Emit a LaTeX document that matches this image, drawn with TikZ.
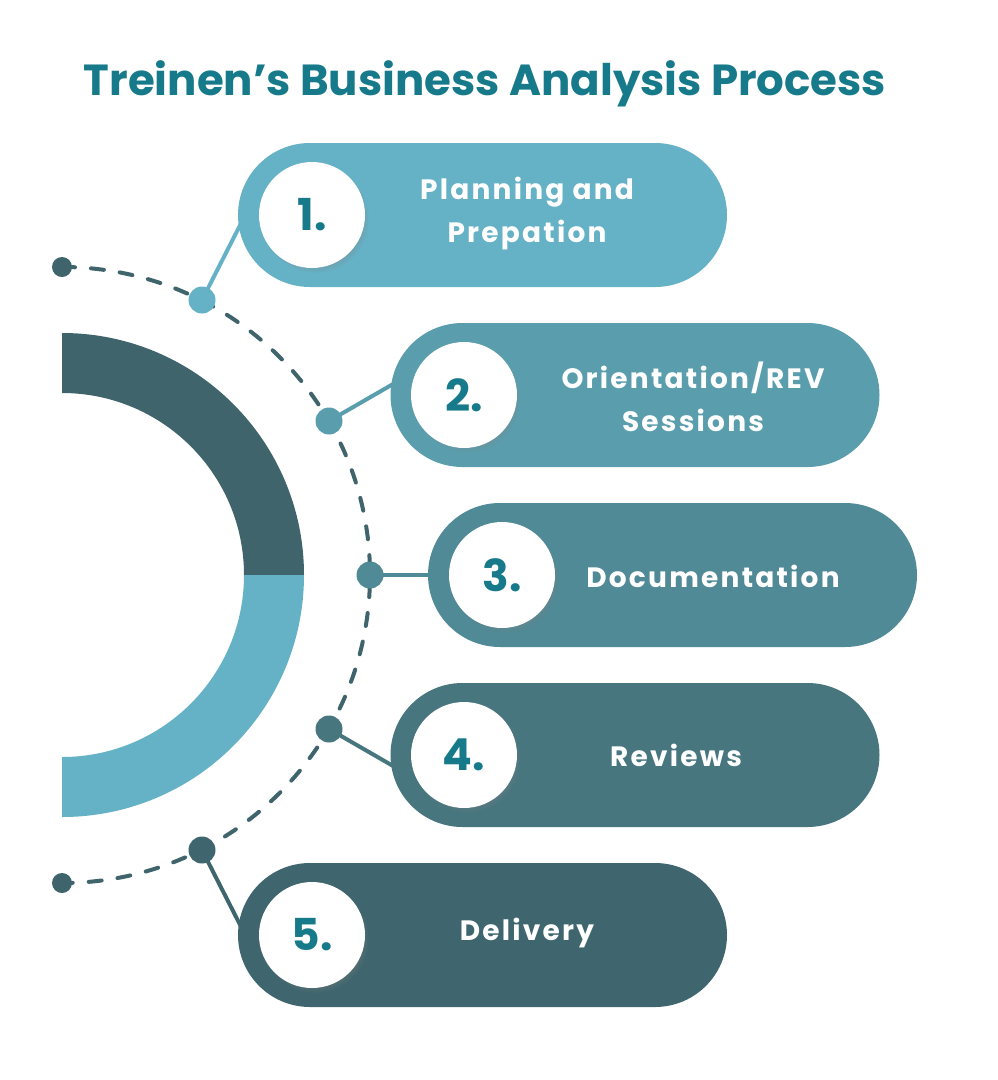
\documentclass[tikz,border=0pt]{standalone}
\usepackage{fontspec}
\setmainfont{Poppins}[UprightFont=* Bold, BoldFont=* Bold]
\newfontfamily\labfont{Poppins Bold}[LetterSpace=8]
\usetikzlibrary{shapes.misc,shadows,backgrounds,calc}
\definecolor{teal}{HTML}{167A8A}
\definecolor{dk}{HTML}{3F646B}
\definecolor{cA}{HTML}{65B1C6}
\definecolor{cB}{HTML}{5A9EAE}
\definecolor{cC}{HTML}{508A96}
\definecolor{cD}{HTML}{47767F}
\definecolor{cE}{HTML}{3F666E}
\tikzset{
  pill/.style={rounded rectangle, fill=#1, minimum width=489pt, minimum height=144pt, inner sep=0pt},
  numcirc/.style={circle, fill=white, minimum size=106pt, inner sep=0pt,
    circular drop shadow={shadow xshift=3pt, shadow yshift=-4pt, opacity=0.35, shadow scale=1.02},
    text=teal, font=\fontsize{44}{44}\selectfont},
  arcdot/.style={circle, fill=#1, minimum size=27pt, inner sep=0pt},
  enddot/.style={circle, fill=dk, minimum size=20pt, inner sep=0pt},
  link/.style={draw=#1, line width=4pt},
  label/.style={text=white, align=center, font=\labfont\fontsize{28}{43}\selectfont},
}
\begin{document}
\begin{tikzpicture}[x=1pt,y=-1pt]
\useasboundingbox (0,0) rectangle (998,1080);
% title
\node[text=teal, font=\fontsize{43.5}{44}\selectfont] (title) at (485,84) {Treinen’s Business Analysis Process};
% half ring
\coordinate (O) at (62,575);
\fill[dk] (62,333) arc[start angle=-90, end angle=0, radius=242] -- (244,575)
   arc[start angle=0, end angle=-90, radius=182] -- cycle;
\fill[cA] (304,575) arc[start angle=0, end angle=90, radius=242] -- (62,757)
   arc[start angle=90, end angle=0, radius=182] -- cycle;
% end dots
\node[enddot] (e1) at (62,267) {};
\node[enddot] (e2) at (62,883) {};
% arc dots
\node[arcdot=cA] (d1) at (202,300) {};
\node[arcdot=cB] (d2) at (329,421) {};
\node[arcdot=cC] (d3) at (370,575) {};
\node[arcdot=cD] (d4) at (329,729) {};
\node[arcdot=cE] (d5) at (202,850) {};
% pills
\node[pill=cA] (p1) at (482.5,215) {};
\node[pill=cB] (p2) at (635,395) {};
\node[pill=cC] (p3) at (672.5,575) {};
\node[pill=cD] (p4) at (635,755) {};
\node[pill=cE] (p5) at (482.5,935) {};
% number circles
\node[numcirc] (c1) at (312,215) {1.};
\node[numcirc] (c2) at (464,395) {2.};
\node[numcirc] (c3) at (502,575) {3.};
\node[numcirc] (c4) at (464,755) {4.};
\node[numcirc] (c5) at (312,935) {5.};
% labels
\node[label] (t1) at (527,214) {Planning and\\Prepation};
\node[label] (t2) at (693,397) {Orientation/REV\\Sessions};
\node[label] (t3) at (713,576) {Documentation};
\node[label] (t4) at (676,755) {Reviews};
\node[label] (t5) at (527,933) {Delivery};
% radial link ends (hidden under the pills)
\coordinate (k1) at ($(O)!1.32!(d1)$);
\coordinate (k2) at ($(O)!1.32!(d2)$);
\coordinate (k3) at ($(O)!1.32!(d3)$);
\coordinate (k4) at ($(O)!1.32!(d4)$);
\coordinate (k5) at ($(O)!1.32!(d5)$);
% dashed arc and connectors behind
\begin{scope}[on background layer]
\draw[dk, line width=4pt, line cap=round, dash pattern=on 13pt off 16pt]
  (e1.center) arc[start angle=-90, end angle=90, radius=308];
\draw[link=cA] (d1.center) -- (k1);
\draw[link=cB] (d2.center) -- (k2);
\draw[link=cC] (d3.center) -- (k3);
\draw[link=cD] (d4.center) -- (k4);
\draw[link=cE] (d5.center) -- (k5);
\end{scope}
\end{tikzpicture}
\end{document}
